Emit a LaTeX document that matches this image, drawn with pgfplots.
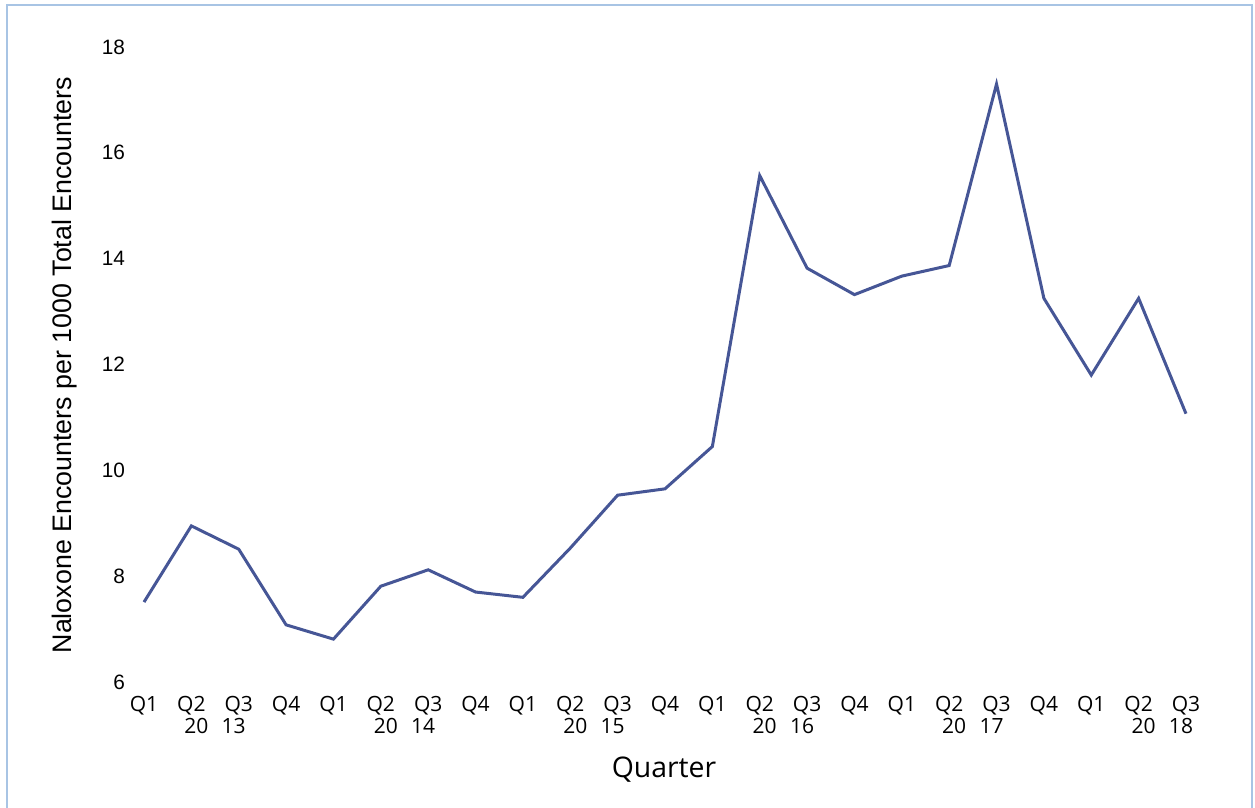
\documentclass[border=0pt]{standalone}
\usepackage{pgfplots}
\pgfplotsset{compat=1.18}
\usepackage{fontspec}
\setmainfont{Liberation Sans}
\newfontfamily\osans{Open Sans}
\definecolor{bordercol}{RGB}{168,196,228}
\definecolor{linecol}{RGB}{70,86,150}
\begin{document}
\begin{tikzpicture}
\useasboundingbox (0,0) rectangle (627.5pt,404pt);
\draw[bordercol, line width=1pt] (3.5pt,-5pt) rectangle (626pt,401.5pt);
\begin{axis}[
  at={(72pt,63pt)}, anchor=south west,
  scale only axis, width=521pt, height=317.5pt,
  xmin=0, xmax=22, ymin=6, ymax=18,
  axis x line*=bottom, axis y line*=left,
  axis line style={draw=none},
  tick style={draw=none},
  clip=false,
  ytick={6,8,10,12,14,16,18},
  yticklabel style={font=\fontsize{10.4}{12}\selectfont, xshift=-6pt},
  /pgf/number format/assume math mode=true,
  xtick={0,...,22},
  xticklabels={{Q1},{Q2\\\hspace*{5pt}20},{Q3\\13\hspace*{5pt}},{Q4},
               {Q1},{Q2\\\hspace*{5pt}20},{Q3\\14\hspace*{5pt}},{Q4},
               {Q1},{Q2\\\hspace*{5pt}20},{Q3\\15\hspace*{5pt}},{Q4},
               {Q1},{Q2\\\hspace*{5pt}20},{Q3\\16\hspace*{5pt}},{Q4},
               {Q1},{Q2\\\hspace*{5pt}20},{Q3\\17\hspace*{5pt}},{Q4},
               {Q1},{Q2\\\hspace*{5pt}20},{Q3\\18\hspace*{5pt}}},
  xticklabel style={font=\osans\fontsize{10.5}{11}\selectfont, align=center, anchor=north, yshift=-3.5pt},
]
\addplot[linecol, line width=1.5pt, line join=miter, mark=none] coordinates {
(0,7.51) (1,8.95) (2,8.51) (3,7.08) (4,6.81) (5,7.81) (6,8.12) (7,7.70)
(8,7.60) (9,8.53) (10,9.53) (11,9.65) (12,10.45) (13,15.57) (14,13.82)
(15,13.32) (16,13.67) (17,13.87) (18,17.30) (19,13.25) (20,11.80)
(21,13.25) (22,11.07)
};
\end{axis}
\node[rotate=90, font=\fontsize{13.4}{16}\selectfont] at (32.5pt,221.5pt) {Naloxone Encounters per 1000 Total Encounters};
\node[font=\osans\fontsize{14.2}{17}\selectfont] at (332pt,19pt) {Quarter};
\end{tikzpicture}
\end{document}
